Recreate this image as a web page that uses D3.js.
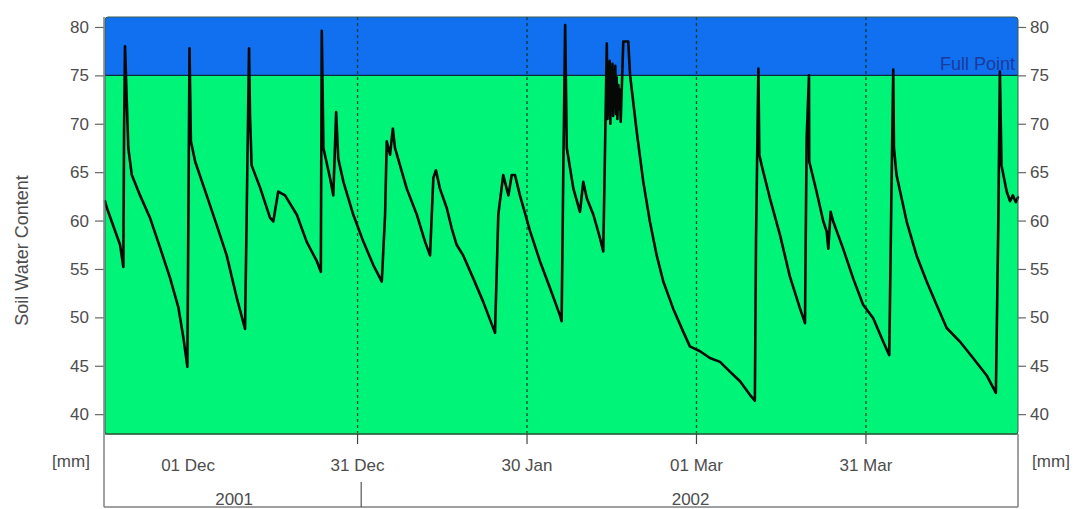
<!DOCTYPE html>
<html>
<head>
<meta charset="utf-8">
<script src="https://cdn.jsdelivr.net/npm/d3@7/dist/d3.min.js"></script>
<style>
  html, body { margin: 0; padding: 0; background: #ffffff; }
  svg { display: block; }
  text { font-family: "Liberation Sans", Arial, sans-serif; }
</style>
</head>
<body>
<svg id="chart" width="1078" height="509"></svg>
<script>
// ---------------- data ----------------
const timeStamps = [
"2001-11-16 07","2001-11-16 15","2001-11-18 23","2001-11-19 13","2001-11-19 16","2001-11-19 20",
"2001-11-20 04","2001-11-20 10","2001-11-21 01","2001-11-22 12","2001-11-24 06","2001-11-26 01",
"2001-11-27 19","2001-11-29 07","2001-11-30 04","2001-11-30 21","2001-12-01 06","2001-12-01 12",
"2001-12-02 06","2001-12-04 07","2001-12-06 02","2001-12-07 20","2001-12-09 15","2001-12-11 02",
"2001-12-11 19","2001-12-11 23","2001-12-12 06","2001-12-13 18","2001-12-15 12","2001-12-16 02",
"2001-12-16 23","2001-12-18 04","2001-12-20 06","2001-12-22 00","2001-12-23 19","2001-12-24 12",
"2001-12-24 16","2001-12-24 23","2001-12-26 03","2001-12-26 17","2001-12-27 05","2001-12-27 14",
"2001-12-28 12","2001-12-30 06","2002-01-01 01","2002-01-02 19","2002-01-04 07","2002-01-04 21",
"2002-01-05 04","2002-01-05 18","2002-01-06 06","2002-01-06 15","2002-01-08 17","2002-01-10 12",
"2002-01-11 23","2002-01-12 20","2002-01-13 10","2002-01-13 21","2002-01-14 14","2002-01-15 19",
"2002-01-16 16","2002-01-17 13","2002-01-18 17","2002-01-20 12","2002-01-22 06","2002-01-24 08",
"2002-01-24 22","2002-01-25 05","2002-01-25 19","2002-01-26 17","2002-01-27 07","2002-01-27 21",
"2002-01-28 18","2002-01-30 13","2002-02-01 07","2002-02-03 02","2002-02-04 20","2002-02-05 03",
"2002-02-05 10","2002-02-05 18","2002-02-06 01","2002-02-07 05","2002-02-08 09","2002-02-08 23",
"2002-02-09 14","2002-02-10 18","2002-02-11 22","2002-02-12 12","2002-02-12 19","2002-02-13 03",
"2002-02-13 06","2002-02-13 09","2002-02-13 12","2002-02-13 15","2002-02-13 18","2002-02-13 21",
"2002-02-14 00","2002-02-14 03","2002-02-14 06","2002-02-14 09","2002-02-14 12","2002-02-14 15",
"2002-02-14 18","2002-02-14 21","2002-02-15 00","2002-02-15 04","2002-02-15 08","2002-02-15 11",
"2002-02-15 14","2002-02-16 01","2002-02-16 22","2002-02-17 06",
"2002-02-18 10","2002-02-19 14","2002-02-20 18","2002-02-21 23","2002-02-23 03","2002-02-24 21",
"2002-02-26 16","2002-02-27 20","2002-03-01 15","2002-03-03 09","2002-03-05 04","2002-03-06 22",
"2002-03-08 17","2002-03-10 11","2002-03-11 08","2002-03-11 13","2002-03-11 23","2002-03-12 03",
"2002-03-12 13","2002-03-14 00","2002-03-15 19","2002-03-17 13","2002-03-19 08","2002-03-20 05",
"2002-03-20 12","2002-03-20 22","2002-03-20 23","2002-03-22 06","2002-03-23 11","2002-03-24 01",
"2002-03-24 08","2002-03-24 18","2002-03-25 05","2002-03-26 23","2002-03-28 18","2002-03-30 12",
"2002-04-01 07","2002-04-03 01","2002-04-04 03","2002-04-04 13","2002-04-04 20","2002-04-04 23",
"2002-04-05 10","2002-04-07 05","2002-04-08 23","2002-04-10 18","2002-04-12 12","2002-04-14 07",
"2002-04-16 15","2002-04-18 23","2002-04-21 09","2002-04-23 00","2002-04-23 10","2002-04-23 17",
"2002-04-24 00","2002-04-24 22","2002-04-25 12","2002-04-26 00","2002-04-26 13","2002-04-26 22"
];
const soilWater = [
62.0,61.3,57.5,55.2,69.2,78.0,
72.0,67.5,64.7,62.6,60.3,57.2,
54.1,51.0,47.9,44.9,77.8,68.2,
66.1,62.6,59.5,56.4,52.0,48.8,
77.8,70.9,65.7,63.4,60.3,59.9,
63.0,62.6,60.6,57.8,55.8,54.7,
79.6,67.5,64.4,62.6,71.2,66.4,
64.0,60.6,57.8,55.4,53.7,60.6,
68.2,66.8,69.5,67.5,63.3,60.6,
57.8,56.4,64.4,65.2,63.3,61.3,
59.2,57.5,56.4,54.0,51.6,48.4,
60.6,62.0,64.7,62.6,64.7,64.7,
62.6,58.9,55.8,53.0,50.2,49.6,
64.7,80.2,67.5,63.3,60.9,64.0,
62.3,60.6,58.2,56.8,66.8,78.3,
70.5,76.0,71.0,76.5,70.0,75.8,
71.5,76.2,70.8,75.5,72.0,76.0,
71.0,74.8,70.5,74.0,71.5,73.5,
70.2,78.5,78.5,75.0,
69.2,64.0,59.9,56.4,53.7,50.9,
48.5,47.0,46.5,45.8,45.4,44.4,
43.4,42.0,41.4,58.2,75.7,66.8,
65.7,62.3,58.5,54.2,50.9,49.4,
68.5,75.0,66.1,63.0,59.9,58.9,
57.1,60.9,59.9,57.1,54.0,51.3,
49.9,47.5,46.1,64.0,75.6,67.5,
64.7,59.9,56.4,53.7,51.3,48.9,
47.5,45.8,44.0,42.2,59.2,75.4,
65.7,63.0,62.0,62.6,61.9,62.4
];
const timeExtent = ["2001-11-16 07", "2002-04-26 22"];
const valueExtent = [37.95, 81.03];
const fullPoint = 75;
const fullPointLabel = "Full Point";
const yTickValues = [40, 45, 50, 55, 60, 65, 70, 75, 80];
const dateLabelTicks = ["2001-12-01", "2001-12-31", "2002-01-30", "2002-03-01", "2002-03-31"];
const gridDates = ["2001-12-31", "2002-01-30", "2002-03-01", "2002-03-31"];
const yearBoundaries = ["2002-01-01"];
const yearLabels = ["2001", "2002"];
const yAxisTitle = "Soil Water Content";
const unitLabel = "[mm]";

// ---------------- layout ----------------
const plot = { left: 105, right: 1018, top: 17, bottom: 434 };
const boxBottom = 507;
const fontSize = 17;

const parseTS = d3.utcParse("%Y-%m-%d %H");
const parseD = d3.utcParse("%Y-%m-%d");
const fmt = d3.utcFormat("%d %b");

const series = timeStamps.map((t, i) => ({ t: parseTS(t), v: soilWater[i] }));

const x = d3.scaleUtc()
  .domain(timeExtent.map(parseTS))
  .range([plot.left, plot.right]);
const y = d3.scaleLinear()
  .domain(valueExtent)
  .range([plot.bottom, plot.top]);

const svg = d3.select("#chart");

// background bands
svg.append("rect")
  .attr("x", plot.left).attr("y", plot.top)
  .attr("width", plot.right - plot.left)
  .attr("height", plot.bottom - plot.top)
  .attr("rx", 3)
  .attr("fill", "#1070f0");
svg.append("rect")
  .attr("x", plot.left).attr("y", y(fullPoint))
  .attr("width", plot.right - plot.left)
  .attr("height", plot.bottom - y(fullPoint))
  .attr("fill", "#00f578");

// full point line
svg.append("line")
  .attr("x1", plot.left).attr("x2", plot.right)
  .attr("y1", y(fullPoint)).attr("y2", y(fullPoint))
  .attr("stroke", "#0b2a3a").attr("stroke-width", 1.2);

svg.append("text")
  .attr("x", plot.right - 3).attr("y", y(fullPoint) - 5)
  .attr("text-anchor", "end")
  .attr("font-size", 18)
  .attr("fill", "#1c3a9a")
  .text(fullPointLabel);

// dashed grid lines
svg.append("g").selectAll("line")
  .data(gridDates.map(parseD))
  .join("line")
  .attr("x1", d => x(d)).attr("x2", d => x(d))
  .attr("y1", plot.top).attr("y2", plot.bottom)
  .attr("stroke", "#0c2a1c").attr("stroke-opacity", 0.85)
  .attr("stroke-width", 1.3)
  .attr("stroke-dasharray", "3,3");

// data line
const line = d3.line()
  .x(d => x(d.t))
  .y(d => y(d.v))
  .curve(d3.curveLinear);
svg.append("path")
  .datum(series)
  .attr("d", line)
  .attr("fill", "none")
  .attr("stroke", "#050805")
  .attr("stroke-width", 2.6)
  .attr("stroke-linejoin", "round")
  .attr("stroke-linecap", "round");

// plot frame
svg.append("rect")
  .attr("x", plot.left).attr("y", plot.top)
  .attr("width", plot.right - plot.left)
  .attr("height", plot.bottom - plot.top)
  .attr("rx", 3)
  .attr("fill", "none")
  .attr("stroke", "#3a5a50").attr("stroke-width", 1);
svg.append("line")
  .attr("x1", plot.left).attr("x2", plot.right)
  .attr("y1", plot.bottom).attr("y2", plot.bottom)
  .attr("stroke", "#2a6a40").attr("stroke-width", 1.5);

// y axes
const axisColor = "#4d4d4d";
const yLeft = svg.append("g")
  .attr("transform", `translate(${plot.left - 1},0)`)
  .call(d3.axisLeft(y).tickValues(yTickValues).tickSize(9).tickPadding(6));
const yRight = svg.append("g")
  .attr("transform", `translate(${plot.right},0)`)
  .call(d3.axisRight(y).tickValues(yTickValues).tickSize(8).tickPadding(4));
[yLeft, yRight].forEach(g => {
  g.select(".domain").remove();
  g.selectAll(".tick line").attr("stroke", "#666").attr("stroke-width", 1.2);
  g.selectAll(".tick text")
    .attr("fill", axisColor)
    .attr("font-size", fontSize)
    .attr("font-family", "'Liberation Sans', Arial, sans-serif");
});

// y axis title
svg.append("text")
  .attr("transform", `translate(28,${(plot.top + plot.bottom) / 2 + 25}) rotate(-90)`)
  .attr("text-anchor", "middle")
  .attr("font-size", 18)
  .attr("fill", axisColor)
  .text(yAxisTitle);

// units
svg.append("text")
  .attr("x", 71).attr("y", 467)
  .attr("text-anchor", "middle")
  .attr("font-size", fontSize).attr("fill", axisColor)
  .text(unitLabel);
svg.append("text")
  .attr("x", 1051).attr("y", 467)
  .attr("text-anchor", "middle")
  .attr("font-size", fontSize).attr("fill", axisColor)
  .text(unitLabel);

// bottom box
const boxColor = "#808080";
svg.append("line")
  .attr("x1", plot.left - 1).attr("x2", plot.left - 1)
  .attr("y1", plot.top).attr("y2", boxBottom)
  .attr("stroke", boxColor).attr("stroke-width", 1.5);
svg.append("line")
  .attr("x1", plot.right).attr("x2", plot.right)
  .attr("y1", plot.bottom).attr("y2", boxBottom)
  .attr("stroke", boxColor).attr("stroke-width", 1.5);
svg.append("line")
  .attr("x1", plot.left - 1).attr("x2", plot.right)
  .attr("y1", boxBottom).attr("y2", boxBottom)
  .attr("stroke", boxColor).attr("stroke-width", 1.5);

// x axis: ticks at grid dates, labels at label dates
svg.append("g").selectAll("line")
  .data(gridDates.map(parseD))
  .join("line")
  .attr("x1", d => x(d)).attr("x2", d => x(d))
  .attr("y1", plot.bottom).attr("y2", plot.bottom + 10)
  .attr("stroke", "#444").attr("stroke-width", 1.2);

svg.append("g").selectAll("text")
  .data(dateLabelTicks.map(parseD))
  .join("text")
  .attr("x", d => x(d)).attr("y", 471)
  .attr("text-anchor", "middle")
  .attr("font-size", fontSize).attr("fill", axisColor)
  .text(d => fmt(d));

// year row
const yb = yearBoundaries.map(parseD);
svg.append("g").selectAll("line")
  .data(yb)
  .join("line")
  .attr("x1", d => x(d) - 2).attr("x2", d => x(d) - 2)
  .attr("y1", 482).attr("y2", boxBottom)
  .attr("stroke", "#555").attr("stroke-width", 1.2);
const edges = [x.domain()[0], ...yb, x.domain()[1]];
svg.append("g").selectAll("text")
  .data(yearLabels)
  .join("text")
  .attr("x", (d, i) => (x(edges[i]) + x(edges[i + 1])) / 2)
  .attr("y", 505)
  .attr("text-anchor", "middle")
  .attr("font-size", fontSize).attr("fill", axisColor)
  .text(d => d);
</script>
</body>
</html>
